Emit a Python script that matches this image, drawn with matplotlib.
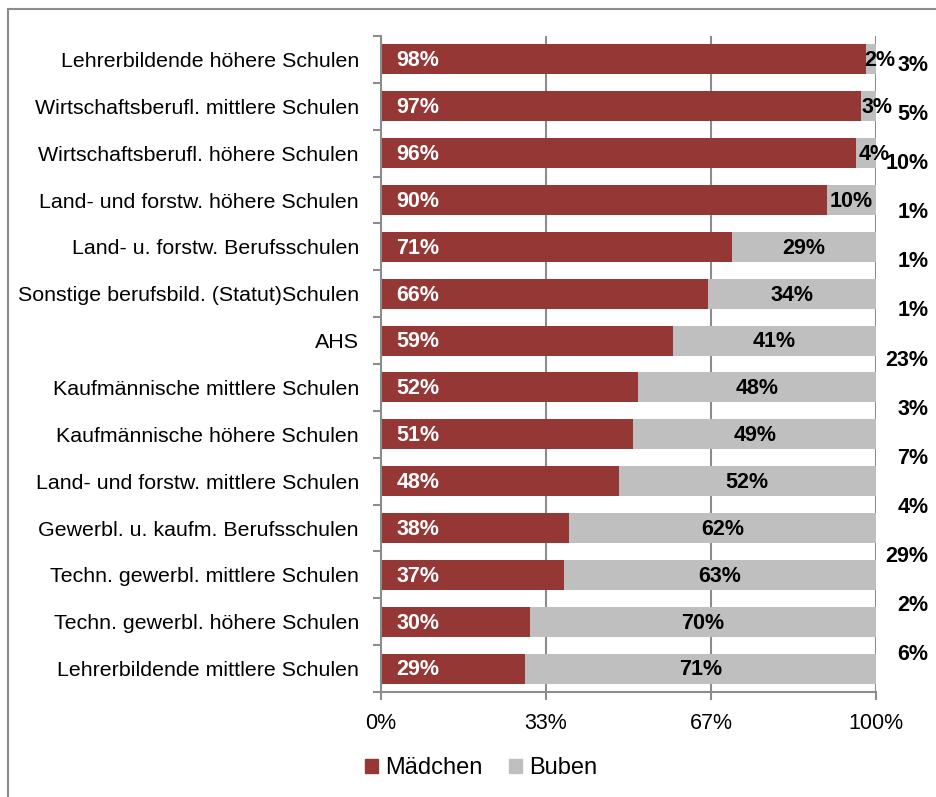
import numpy as np
import matplotlib.pyplot as plt
from matplotlib.patches import Patch
from matplotlib.lines import Line2D

plt.rcParams['font.family'] = ['Liberation Sans', 'DejaVu Sans']

schulen = ["Lehrerbildende höhere Schulen",
           "Wirtschaftsberufl. mittlere Schulen",
           "Wirtschaftsberufl. höhere Schulen",
           "Land- und forstw. höhere Schulen",
           "Land- u. forstw. Berufsschulen",
           "Sonstige berufsbild. (Statut)Schulen",
           "AHS",
           "Kaufmännische mittlere Schulen",
           "Kaufmännische höhere Schulen",
           "Land- und forstw. mittlere Schulen",
           "Gewerbl. u. kaufm. Berufsschulen",
           "Techn. gewerbl. mittlere Schulen",
           "Techn. gewerbl. höhere Schulen",
           "Lehrerbildende mittlere Schulen"]
maedchen = [98, 97, 96, 90, 71, 66, 59, 52, 51, 48, 38, 37, 30, 29]
buben = [2, 3, 4, 10, 29, 34, 41, 48, 49, 52, 62, 63, 70, 71]
anteil = [3, 5, 10, 1, 1, 1, 23, 3, 7, 4, 29, 2, 6]

rot = '#953735'
grau = '#bfbfbf'
linie = '#8c8c8c'

fig = plt.figure(figsize=(9.36, 7.97), dpi=100)
ax = fig.add_axes([381/936, 1-692/797, 495/936, 656/797])

y = np.arange(len(schulen))
m = np.array(maedchen) / 100
b = np.array(buben) / 100
ax.barh(y, m, height=0.64, color=rot, zorder=2)
ax.barh(y, b, left=m, height=0.64, color=grau, zorder=2)

for i in range(len(schulen)):
    ax.annotate(f"{maedchen[i]}%", (0, y[i]), xytext=(11, -1), textcoords='offset points',
                ha='left', va='center', color='white', fontsize=15.5, fontweight='bold', zorder=3)
    # schmale Segmente: Beschriftung etwas nach rechts schieben
    dx = 6 if buben[i] < 5 else 0
    ax.annotate(f"{buben[i]}%", (m[i] + b[i] / 2, y[i]), xytext=(dx, -1), textcoords='offset points',
                ha='center', va='center', color='black', fontsize=15.5, fontweight='bold', zorder=3)

# Anteil-Spalte rechts neben dem Diagramm
pos = np.linspace(0.955, 0.057, len(anteil))
for i, wert in enumerate(anteil):
    ax.text(1.106, pos[i], f"{wert}%", transform=ax.transAxes, ha='right', va='center',
            fontsize=15.5, fontweight='bold', clip_on=False)

ax.set_xlim(0, 1)
ax.set_ylim(len(schulen) - 0.5, -0.5)
ax.set_xticks([0, 1/3, 2/3, 1])
ax.set_xticklabels(['0%', '33%', '67%', '100%'], fontsize=15.5)
ax.set_yticks(y)
ax.set_yticklabels(schulen, fontsize=15.4, va='center_baseline')
ax.set_yticks(np.arange(-0.5, len(schulen)), minor=True)
ax.tick_params(axis='y', which='major', length=0, pad=16)
ax.tick_params(axis='y', which='minor', length=6, color=linie, width=1.5)
ax.tick_params(axis='x', length=6, color=linie, width=1.5, pad=9)
ax.grid(axis='x', color=linie, linewidth=1.5, zorder=1)
ax.set_axisbelow(True)
for s in ['top', 'right']:
    ax.spines[s].set_visible(False)
for s in ['left', 'bottom']:
    ax.spines[s].set_color(linie)
    ax.spines[s].set_linewidth(1.5)

handles = [Patch(color=rot, label='Mädchen'), Patch(color=grau, label='Buben')]
fig.legend(handles=handles, loc='center', bbox_to_anchor=(481/936, 1-768/797), ncol=2,
           frameon=False, fontsize=17, handlelength=0.55, handleheight=0.55,
           handletextpad=0.3, columnspacing=1.1)

# Rahmen
fig.add_artist(Line2D([8/936, 8/936], [0, 1-9/797], color=linie, linewidth=1.5))
fig.add_artist(Line2D([8/936, 1], [1-9/797, 1-9/797], color=linie, linewidth=1.5))

fig.savefig('out.png', dpi=100)
